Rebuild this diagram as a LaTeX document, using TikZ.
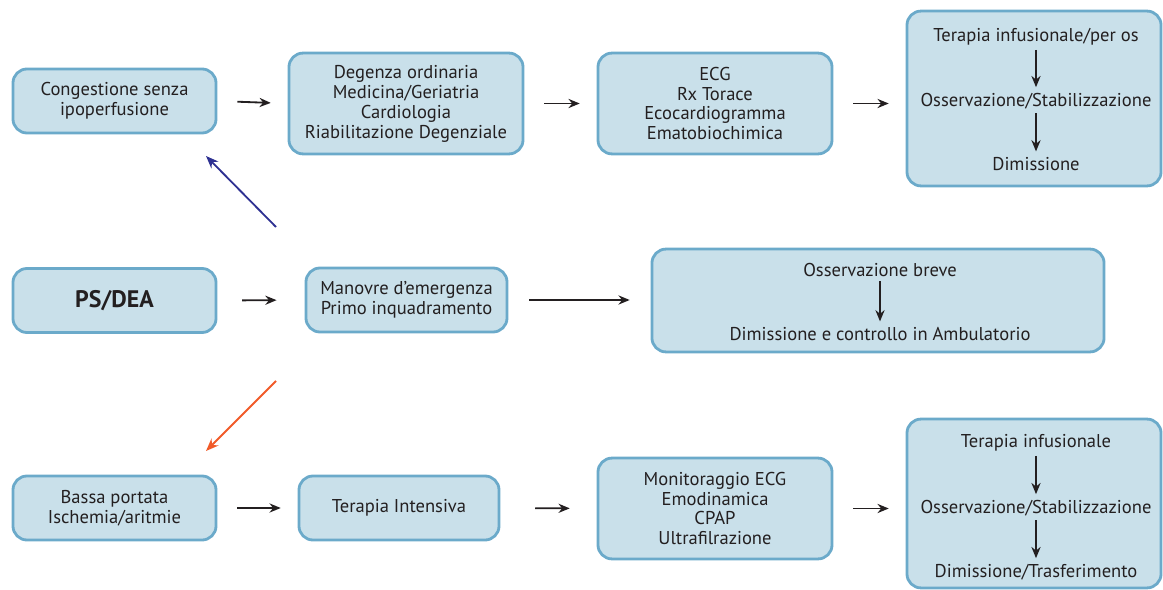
\documentclass[tikz,border=0pt]{standalone}
\usepackage{fontspec}
\setmainfont{PT Sans}
\usepackage{tikz}
\usetikzlibrary{arrows.meta}
\definecolor{boxfill}{HTML}{C9E0EA}
\definecolor{boxline}{HTML}{6BAACA}
\definecolor{txtgray}{HTML}{231F20}
\definecolor{bluearrow}{HTML}{2E3192}
\definecolor{orangearrow}{HTML}{F15A29}

\begin{document}
\begin{tikzpicture}[x=0.025cm,y=-0.025cm]
		\useasboundingbox (0,0) rectangle (1163,590);
		\begin{scope}[every node/.style={draw=boxline,fill=boxfill,line width=2pt,rounded corners=0.35cm,
		              text=txtgray,align=center,inner sep=0pt,font=\fontsize{13.2}{14.2}\selectfont}]
		    	\node[minimum width=5.075cm,minimum height=1.6cm] (cong) at (114.5,101) {Congestione senza\\ipoperfusione};
			\node[minimum width=5.85cm,minimum height=2.52cm] (deg) at (406,103.5) {Degenza ordinaria\\Medicina/Geriatria\\Cardiologia\\Riabilitazione Degenziale};
		    	\node[minimum width=5.85cm,minimum height=2.52cm] (ecg) at (715,103.5) {ECG\\Rx Torace\\Ecocardiogramma\\Ematobiochimica};
			\node[minimum width=6.35cm,minimum height=4.37cm] (ter1) at (1034,98.5) {};
		    	\node[minimum width=5.075cm,minimum height=1.6cm,font=\fontsize{17}{19}\selectfont\bfseries] (ps) at (114.5,300.5) {PS/DEA};
			\node[minimum width=5.025cm,minimum height=1.6cm] (man) at (406.5,300) {Manovre d’emergenza\\Primo inquadramento};
		    	\node[minimum width=11.3cm,minimum height=2.57cm] (oss) at (878,300.5) {};
			\node[minimum width=5.075cm,minimum height=1.6cm] (bassa) at (114.5,508) {Bassa portata\\Ischemia/aritmie};
		    	\node[minimum width=5cm,minimum height=1.6cm] (ti) at (399,508) {Terapia Intensiva};
			\node[minimum width=5.85cm,minimum height=2.52cm] (mon) at (715,508.5) {Monitoraggio ECG\\Emodinamica\\CPAP\\Ultrafilrazione};
		    	\node[minimum width=6.35cm,minimum height=4.22cm] (ter2) at (1034,503.5) {};
		\end{scope}

		\begin{scope}[every node/.style={text=txtgray,inner sep=0pt,font=\fontsize{13.2}{14.2}\selectfont}]
		    	\node (t11) at (1036,37) {Terapia infusionale/per os};
			\node (t12) at (1036,101) {Osservazione/Stabilizzazione};
		    	\node (t13) at (1036,164) {Dimissione};
			\node (o1) at (880,270) {Osservazione breve};
		    	\node (o2) at (880,334) {Dimissione e controllo in Ambulatorio};
			\node (t21) at (1036,443) {Terapia infusionale};
		    	\node (t22) at (1036,508) {Osservazione/Stabilizzazione};
			\node (t23) at (1036,572) {Dimissione/Trasferimento};
		\end{scope}

		\coordinate (bluefrom) at (276,227);
		\coordinate (blueto) at (206,156);
		\coordinate (orangefrom) at (276,381);
		\coordinate (orangeto) at (206,451);

		\begin{scope}[>={Stealth[length=8pt,width=6.5pt]},
		              every edge/.style={draw=txtgray,line width=1.3pt,->,shorten <=0.5cm,shorten >=0.42cm}]
			\path (cong.east) edge (deg.west);
			\path (deg.east) edge (ecg.west);
			\path (ecg.east) edge (ter1.west |- ecg.east);
			\path (ps.east) edge[shorten <=0.62cm,shorten >=0.7cm] (man.west);
			\path (man.east) edge[shorten <=0.52cm,shorten >=0.52cm] (oss.west |- man.east);
			\path (bassa.east) edge (ti.west);
			\path (ti.east) edge[shorten <=0.87cm,shorten >=0.67cm] (mon.west);
			\path (mon.east) edge (ter2.west |- mon.east);
		\end{scope}

		\begin{scope}[>={Stealth[length=8pt,width=6.5pt]},
		              every edge/.style={draw=txtgray,line width=1.3pt,->,shorten <=3pt,shorten >=4pt}]
			\path (t11) edge (t12);
			\path (t12) edge (t13);
			\path (o1) edge (o2);
			\path (t21) edge (t22);
			\path (t22) edge (t23);
		\end{scope}

		\path[line width=1.3pt,-{Stealth[length=9pt,width=7pt]}] (bluefrom) edge[draw=bluearrow] (blueto);
		\path[line width=1.3pt,-{Stealth[length=9pt,width=7pt]}] (orangefrom) edge[draw=orangearrow] (orangeto);
		\end{tikzpicture}
\end{document}
